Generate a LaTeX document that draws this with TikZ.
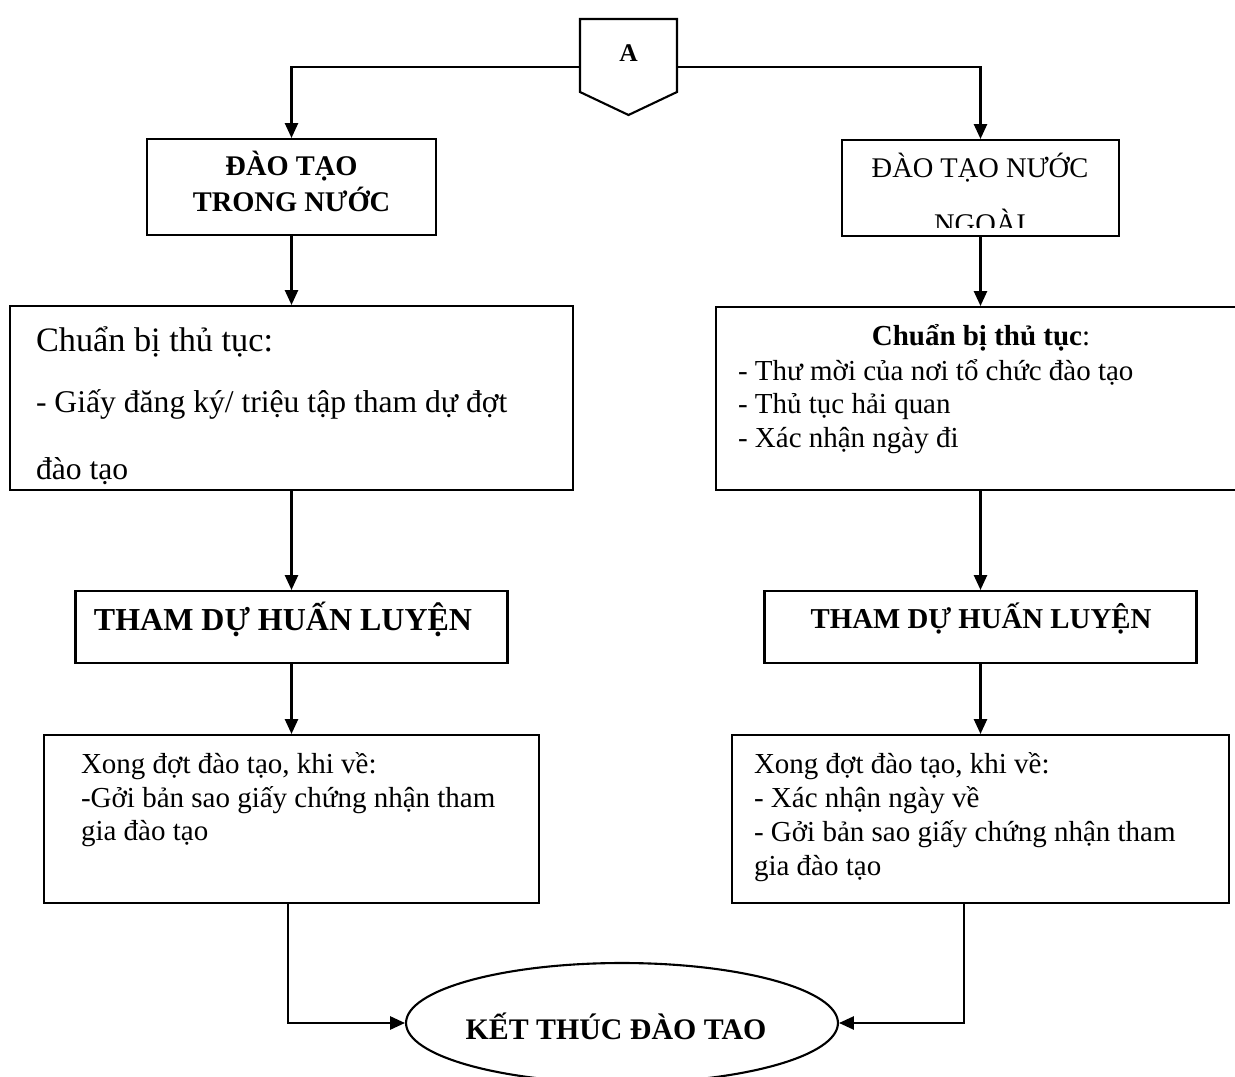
\documentclass[tikz,border=0pt]{standalone}
\usepackage{fontspec}
\setmainfont{Liberation Serif}
\usetikzlibrary{arrows.meta,shapes.geometric}

\begin{document}
\begin{tikzpicture}[x=0.02cm,y=-0.02cm,line width=1.2pt,
  box/.style={draw,rectangle,inner sep=0pt},
  flow/.style={-{Triangle[length=8.5pt,width=7.5pt]}},
  txt/.style={inner sep=0pt,anchor=base west,align=left},
  ctxt/.style={inner sep=0pt,anchor=base,align=center},
  body/.style={font=\fontsize{16.5pt}{19.35pt}\selectfont},
]
\useasboundingbox (0,0) rectangle (1235,1077);
\clip (0,0) rectangle (1235,1077);

% entry connector A
\draw (580,19) -- (677,19) -- (677,92) -- (628.5,115) -- (580,92) -- cycle;
\node[ctxt,font=\fontsize{14.5pt}{16pt}\selectfont\bfseries] (A) at (628.5,62) {A};
\coordinate (aW) at (580,67);
\coordinate (aE) at (677,67);

% boxes
\node[box,minimum width=5.78cm,minimum height=1.92cm] (b1) at (291.5,187) {};
\node[box,minimum width=5.54cm,minimum height=1.92cm] (b2) at (980.5,188) {};
\node[box,minimum width=11.26cm,minimum height=3.68cm] (c1) at (291.5,398) {};
\node[box,minimum width=10.58cm,minimum height=3.66cm] (c2) at (980.5,398.5) {};
\node[box,minimum width=8.64cm,minimum height=1.44cm] (d1) at (291.5,627) {};
\node[box,minimum width=8.64cm,minimum height=1.44cm] (d2) at (980.5,627) {};
\node[box,minimum width=9.9cm,minimum height=3.36cm] (e1) at (291.5,819) {};
\node[box,minimum width=9.94cm,minimum height=3.36cm] (e2) at (980.5,819) {};
\node[draw,ellipse,inner sep=0pt,minimum width=8.64cm,minimum height=2.4cm] (end) at (622,1023) {};

% texts (the base anchor of a multi-line node sits on its last line)
\node[ctxt,font=\fontsize{16.2pt}{21pt}\selectfont\bfseries] (t1) at (291.5,212)
  {ĐÀO TẠO\\TRONG NƯỚC};
\begin{scope}
  \clip (843,141) rectangle (1118,228);
  \node[ctxt,font=\fontsize{16.2pt}{32.4pt}\selectfont] (t2) at (980,234)
    {ĐÀO TẠO NƯỚC\\NGOÀI};
\end{scope}
\node[txt,font=\fontsize{19.5pt}{22pt}\selectfont] (t3) at (35,352) {Chuẩn bị thủ tục:};
\node[txt,font=\fontsize{18pt}{38.7pt}\selectfont] (t4) at (35,480)
  {- Giấy đăng ký/ triệu tập tham dự đợt\\đào tạo};
\node[ctxt,body] (t5) at (981,346) {\textbf{Chuẩn bị thủ tục}:};
\node[txt,body] (t6) at (737,448)
  {- Thư mời của nơi tổ chức đào tạo\\- Thủ tục hải quan\\- Xác nhận ngày đi};
\node[ctxt,font=\fontsize{18.2pt}{21pt}\selectfont\bfseries] (t7) at (283,631) {THAM DỰ HUẤN LUYỆN};
\node[ctxt,font=\fontsize{16.4pt}{20pt}\selectfont\bfseries] (t8) at (981,629) {THAM DỰ HUẤN LUYỆN};
\node[txt,body] (t9) at (80,841)
  {Xong đợt đào tạo, khi về:\\-Gởi bản sao giấy chứng nhận tham\\gia đào tạo};
\node[txt,body] (t10) at (753,875)
  {Xong đợt đào tạo, khi về:\\- Xác nhận ngày về\\- Gởi bản sao giấy chứng nhận tham\\gia đào tạo};
\node[ctxt,font=\fontsize{17pt}{20pt}\selectfont\bfseries] (t11) at (616,1039) {KẾT THÚC ĐÀO TAO};

% connectors
\draw[flow] (aW) -| (b1.north);
\draw[flow] (aE) -| (b2.north);
\draw[flow] (b1.south) -- (c1.north);
\draw[flow] (b2.south) -- (b2.south |- c2.north);
\draw[flow] (c1.south) -- (d1.north);
\draw[flow] (d2.north |- c2.south) -- (d2.north);
\draw[flow] (d1.south) -- (e1.north);
\draw[flow] (d2.south) -- (e2.north);
\draw[flow] ([xshift=-0.07cm]e1.south) |- (end.west);
\draw[flow] ([xshift=-0.33cm]e2.south) |- (end.east);
\end{tikzpicture}
\end{document}
